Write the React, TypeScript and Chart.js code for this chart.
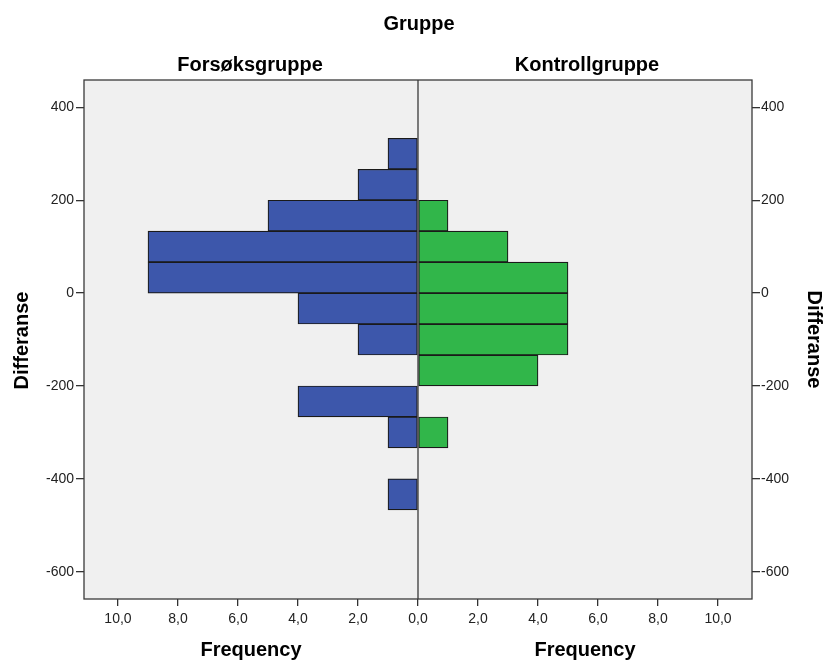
import React, { useEffect, useRef } from "react";
import { Chart, registerables } from "chart.js";

Chart.register(...registerables);

// Bin centres of "Differanse" (bin width ≈ 66.7)
const binCenters = [300, 233.3, 166.7, 100, 33.3, -33.3, -100, -166.7, -233.3, -300, -366.7, -433.3];
// Frequencies per group
const forsoksFreq = [1, 2, 5, 9, 9, 4, 2, 0, 4, 1, 0, 1];
const kontrollFreq = [0, 0, 1, 3, 5, 5, 5, 4, 0, 1, 0, 0];

const yTicks = [400, 200, 0, -200, -400, -600];
const xTicks = [-10, -8, -6, -4, -2, 0, 2, 4, 6, 8, 10];

const groupTitle = "Gruppe";
const leftPanel = "Forsøksgruppe";
const rightPanel = "Kontrollgruppe";
const xTitle = "Frequency";
const yTitle = "Differanse";

const FONT = "'Liberation Sans', Arial, sans-serif";

export default function App() {
  const ref = useRef<HTMLCanvasElement | null>(null);

  useEffect(() => {
    const canvas = ref.current;
    if (!canvas) return;

    const leftData = binCenters
      .map((y, i) => ({ x: -forsoksFreq[i], y }))
      .filter((d) => d.x !== 0);
    const rightData = binCenters
      .map((y, i) => ({ x: kontrollFreq[i], y }))
      .filter((d) => d.x !== 0);

    const decor = {
      id: "decor",
      beforeDraw(chart: any) {
        const { ctx, chartArea: a } = chart;
        ctx.save();
        ctx.fillStyle = "#ffffff";
        ctx.fillRect(0, 0, chart.width, chart.height);
        ctx.fillStyle = "#f0f0f0";
        ctx.fillRect(a.left, a.top, a.right - a.left, a.bottom - a.top);
        ctx.restore();
      },
      afterDatasetsDraw(chart: any) {
        const { ctx, chartArea: a } = chart;
        const x0 = chart.scales.x.getPixelForValue(0);
        ctx.save();
        ctx.strokeStyle = "#3a3a3a";
        ctx.lineWidth = 1.3;
        ctx.beginPath();
        ctx.moveTo(x0, a.top);
        ctx.lineTo(x0, a.bottom);
        ctx.stroke();
        ctx.strokeRect(a.left, a.top, a.right - a.left, a.bottom - a.top);
        ctx.restore();
      },
      afterDraw(chart: any) {
        const { ctx, chartArea: a } = chart;
        const x0 = chart.scales.x.getPixelForValue(0);
        const lc = (a.left + x0) / 2;
        const rc = (x0 + a.right) / 2;
        ctx.save();
        ctx.fillStyle = "#000000";
        ctx.font = `bold 20px ${FONT}`;
        ctx.textAlign = "center";
        ctx.textBaseline = "alphabetic";
        ctx.fillText(groupTitle, x0 + 1, 30);
        ctx.fillText(leftPanel, lc - 1, 71);
        ctx.fillText(rightPanel, rc + 2, 71);
        ctx.fillText(xTitle, lc, 656);
        ctx.fillText(xTitle, rc, 656);
        const yc = (a.top + a.bottom) / 2;
        ctx.save();
        ctx.translate(28, yc + 1);
        ctx.rotate(-Math.PI / 2);
        ctx.fillText(yTitle, 0, 0);
        ctx.restore();
        ctx.save();
        ctx.translate(808, yc);
        ctx.rotate(Math.PI / 2);
        ctx.fillText(yTitle, 0, 0);
        ctx.restore();
        ctx.restore();
      },
    };

    const setYTicks = (s: any) => {
      s.ticks = yTicks.map((value) => ({ value }));
    };

    const chart = new Chart(canvas, {
      type: "bar",
      data: {
        datasets: [
          {
            label: leftPanel,
            data: leftData as any,
            backgroundColor: "#3d57ab",
            borderColor: "#1a1a1a",
            borderWidth: 1.2,
            borderSkipped: false,
            grouped: false,
            barPercentage: 1,
            categoryPercentage: 1,
            yAxisID: "y",
            xAxisID: "x",
          } as any,
          {
            label: rightPanel,
            data: rightData as any,
            backgroundColor: "#31b64a",
            borderColor: "#1a1a1a",
            borderWidth: 1.2,
            borderSkipped: false,
            grouped: false,
            barPercentage: 1,
            categoryPercentage: 1,
            yAxisID: "y",
            xAxisID: "x",
          } as any,
        ],
      },
      options: {
        indexAxis: "y",
        animation: false,
        responsive: false,
        devicePixelRatio: 1,
        layout: { padding: { left: 0, right: 0, top: 80, bottom: 0 } },
        plugins: {
          legend: { display: false },
          tooltip: { enabled: false },
          title: { display: false },
        },
        scales: {
          x: {
            type: "linear",
            position: "bottom",
            min: -11.133,
            max: 11.133,
            offset: false,
            afterBuildTicks: (s: any) => {
              s.ticks = xTicks.map((value) => ({ value }));
            },
            afterFit: (s: any) => {
              s.height = 62;
            },
            border: { display: false },
            grid: {
              offset: false,
              drawOnChartArea: false,
              drawTicks: true,
              tickLength: 7,
              color: "#333333",
              lineWidth: 1.3,
            },
            ticks: {
              padding: 5,
              maxRotation: 0,
              autoSkip: false,
              color: "#222222",
              font: { family: FONT, size: 14 },
              callback: (v: any) => Math.abs(Number(v)).toFixed(1).replace(".", ","),
            },
          },
          y: {
            type: "linear",
            position: "left",
            min: -658.6,
            max: 458.8,
            offset: false,
            afterBuildTicks: setYTicks,
            afterFit: (s: any) => {
              s.width = 84;
            },
            border: { display: false },
            grid: {
              offset: false,
              drawOnChartArea: false,
              drawTicks: true,
              tickLength: 8,
              color: "#333333",
              lineWidth: 1.3,
            },
            ticks: {
              padding: 2,
              autoSkip: false,
              color: "#222222",
              font: { family: FONT, size: 14 },
              callback: (v: any) => String(v),
            },
          },
          y2: {
            type: "linear",
            position: "right",
            min: -658.6,
            max: 458.8,
            offset: false,
            afterBuildTicks: setYTicks,
            afterFit: (s: any) => {
              s.width = 73;
            },
            border: { display: false },
            grid: {
              offset: false,
              drawOnChartArea: false,
              drawTicks: true,
              tickLength: 8,
              color: "#333333",
              lineWidth: 1.3,
            },
            ticks: {
              padding: 1,
              autoSkip: false,
              color: "#222222",
              font: { family: FONT, size: 14 },
              callback: (v: any) => String(v),
            },
          },
        },
      } as any,
      plugins: [decor],
    });

    return () => chart.destroy();
  }, []);

  return (
    <div style={{ position: "absolute", left: 0, top: 0, width: 825, height: 661, background: "#fff" }}>
      <canvas ref={ref} width={825} height={661} style={{ display: "block", width: 825, height: 661 }} />
    </div>
  );
}
